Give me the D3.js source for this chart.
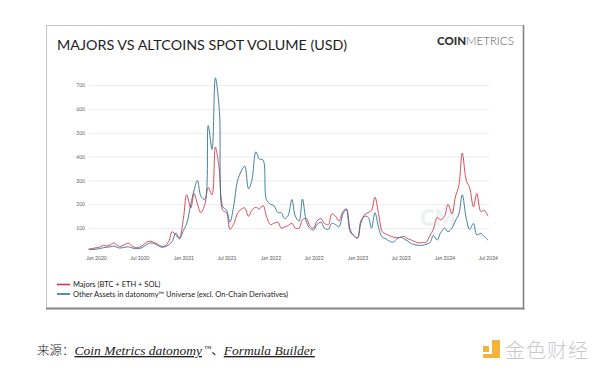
<!DOCTYPE html>
<html><head><meta charset="utf-8">
<script src="https://cdn.jsdelivr.net/npm/d3@7"></script>
<style>html,body{margin:0;padding:0;background:#fff;}svg{display:block}</style>
</head><body>
<script>
const dates = ["2019-12-01","2019-12-15","2020-01-01","2020-01-15","2020-02-01","2020-02-15","2020-03-01","2020-03-15","2020-04-01","2020-04-15","2020-05-01","2020-05-15","2020-06-01","2020-06-15","2020-07-01","2020-07-15","2020-08-01","2020-08-15","2020-09-01","2020-09-15","2020-10-01","2020-10-15","2020-11-01","2020-11-15","2020-12-01","2020-12-15",
"2021-01-01","2021-01-15","2021-02-01","2021-02-15","2021-03-01","2021-03-15","2021-04-01","2021-04-15","2021-05-01","2021-05-15","2021-06-01","2021-06-15","2021-07-01","2021-07-15","2021-08-01","2021-08-15","2021-09-01","2021-09-15","2021-10-01","2021-10-15","2021-11-01","2021-11-15","2021-12-01","2021-12-15",
"2022-01-01","2022-01-15","2022-02-01","2022-02-15","2022-03-01","2022-03-15","2022-04-01","2022-04-15","2022-05-01","2022-05-15","2022-06-01","2022-06-15","2022-07-01","2022-07-15","2022-08-01","2022-08-15","2022-09-01","2022-09-15","2022-10-01","2022-10-15","2022-11-01","2022-11-15","2022-12-01","2022-12-15",
"2023-01-01","2023-01-15","2023-02-01","2023-02-15","2023-03-01","2023-03-15","2023-04-01","2023-04-15","2023-05-01","2023-05-15","2023-06-01","2023-06-15","2023-07-01","2023-07-15","2023-08-01","2023-08-15","2023-09-01","2023-09-15","2023-10-01","2023-10-15","2023-11-01","2023-11-15","2023-12-01","2023-12-15",
"2024-01-01","2024-01-15","2024-02-01","2024-02-15","2024-03-01","2024-03-15","2024-04-01","2024-04-15","2024-05-01","2024-05-15","2024-06-01","2024-06-15","2024-07-01"];

const majors = [12,14,18,20,28,25,30,38,26,24,32,37,25,18,20,28,42,45,40,32,24,25,45,85,70,60,
140,240,185,245,200,165,200,270,240,440,340,175,165,95,120,160,180,185,150,175,188,180,195,150,
115,120,125,100,105,110,120,100,100,135,140,110,100,130,140,120,115,160,150,130,170,180,95,70,
58,120,158,165,175,230,150,85,75,68,62,60,62,65,55,50,42,38,40,40,70,95,145,135,
150,200,160,230,280,415,300,270,190,245,170,175,150];

const others = [12,10,12,14,18,20,22,25,18,17,20,22,17,14,15,20,32,38,35,28,20,22,30,45,80,55,
90,120,200,260,300,235,220,530,430,730,590,190,175,125,200,295,340,360,265,300,420,390,385,220,
200,195,165,165,140,150,220,150,130,222,125,100,92,115,125,100,95,120,115,105,160,180,85,70,
60,130,150,145,100,165,95,62,55,45,42,55,62,55,45,35,30,28,28,32,40,70,50,80,
100,85,100,130,160,240,140,95,120,72,78,65,50];

const yTicks = [100,200,300,400,500,600,700];
const xTickDates = ["2020-01-01","2020-07-01","2021-01-01","2021-07-01","2022-01-01","2022-07-01","2023-01-01","2023-07-01","2024-01-01","2024-07-01"];
const seriesNames = ["Majors (BTC + ETH + SOL)","Other Assets in datonomy\u2122 Universe (excl. On-Chain Derivatives)"];
const seriesColors = ["#d23a4a","#2f7396"];

const W = 600, H = 371;
const parse = d3.timeParse("%Y-%m-%d");
const svg = d3.select("body").append("svg").attr("width", W).attr("height", H);

// card
svg.append("rect").attr("x",46.5).attr("y",25.5).attr("width",477).attr("height",283)
  .attr("fill","#fff").attr("stroke","#c4c4c4").attr("stroke-width",1);
svg.append("line").attr("x1",46).attr("x2",524.5).attr("y1",308.5).attr("y2",308.5).attr("stroke","#858585").attr("stroke-width",2);
svg.append("line").attr("x1",523.5).attr("x2",523.5).attr("y1",25).attr("y2",309.5).attr("stroke","#858585").attr("stroke-width",1.6);

// title
svg.append("text").attr("x",57).attr("y",50).attr("font-family","Lato").attr("font-size",14.3)
  .attr("fill","#1e1e1e").text("MAJORS VS ALTCOINS SPOT VOLUME (USD)");
const logo = svg.append("text").attr("x",437).attr("y",45).attr("font-family","Lato").attr("font-size",11.5).attr("fill","#333");
logo.append("tspan").attr("font-weight",900).text("COIN");
logo.append("tspan").attr("font-weight",300).attr("fill","#555").text("METRICS");

const x = d3.scaleTime().domain([parse("2019-12-01"), parse("2024-07-01")]).range([88.7, 488]);
const y = d3.scaleLinear().domain([0, 700]).range([252, 85]);

// grid
svg.append("g").selectAll("line").data(yTicks).join("line")
  .attr("x1",89).attr("x2",489).attr("y1",d=>y(d)+0.5).attr("y2",d=>y(d)+0.5)
  .attr("stroke","#ececec").attr("stroke-width",1);

// y axis
const yAxis = svg.append("g").attr("transform","translate(85,0)")
  .call(d3.axisLeft(y).tickValues(yTicks).tickSize(0).tickPadding(0).tickFormat(d3.format("d")));
yAxis.select(".domain").remove();
yAxis.selectAll("text").attr("font-family","Lato").attr("font-size",5).attr("fill","#666");

// x axis
const xAxis = svg.append("g").attr("transform","translate(0,256)")
  .call(d3.axisBottom(x).tickValues(xTickDates.map(parse)).tickSize(0).tickPadding(0).tickFormat(d3.timeFormat("%b %Y")));
xAxis.select(".domain").remove();
xAxis.selectAll("text").attr("font-family","Lato").attr("font-size",5).attr("fill","#555");

// watermark in chart
svg.append("text").attr("x",438).attr("y",226).attr("text-anchor","middle").attr("font-family","Lato").attr("font-weight",900)
  .attr("font-size",22).attr("fill","#e9eef2").attr("opacity",0.8).text("CM");

// lines
const line = d3.line().x((d,i)=>x(parse(dates[i]))).y(d=>y(d)).curve(d3.curveCatmullRom.alpha(0.5));
[majors, others].forEach((s,i)=>{
  svg.append("path").datum(s).attr("d",line).attr("fill","none")
    .attr("stroke",seriesColors[i]).attr("stroke-width",0.9).attr("stroke-linejoin","round");
});

// legend
seriesNames.forEach((n,i)=>{
  const yy = 284.5 + i*9.5;
  svg.append("line").attr("x1",57).attr("x2",70).attr("y1",yy).attr("y2",yy).attr("stroke",seriesColors[i]).attr("stroke-width",1.6);
  svg.append("text").attr("x",73).attr("y",yy+2.5).attr("font-family","Lato").attr("font-size",7.5).attr("fill","#222").text(n);
});

// caption
const cap = svg.append("text").attr("x",37).attr("y",355).attr("font-size",13.5).attr("fill","#222");
cap.append("tspan").attr("font-family","Noto Sans CJK SC").attr("font-size",12.5).attr("font-weight",300).text("来源：");
cap.append("tspan").attr("font-family","Liberation Serif").attr("font-style","italic").attr("text-decoration","underline").text("Coin Metrics datonomy");
cap.append("tspan").attr("font-family","Liberation Serif").attr("font-style","italic").attr("font-size",7.5).attr("dy",-4).text(" \u2122");
cap.append("tspan").attr("font-family","Noto Sans CJK SC").attr("font-size",12.5).attr("dy",4).text("、");
cap.append("tspan").attr("font-family","Liberation Serif").attr("font-style","italic").attr("text-decoration","underline").text("Formula Builder");

// site watermark
const wm = svg.append("g");
wm.append("rect").attr("x",483).attr("y",346).attr("width",6).attr("height",6).attr("fill","#f2b53a");
wm.append("path").attr("d","M492,340 h8 v18 h-17 v-4 h9 z").attr("fill","#f2b53a");
wm.append("text").attr("x",505).attr("y",358).attr("font-family","Noto Sans CJK SC").attr("font-size",20).attr("font-weight",300)
  .attr("fill","#c9c9c9").attr("letter-spacing",1).text("金色财经");
</script>
</body></html>
